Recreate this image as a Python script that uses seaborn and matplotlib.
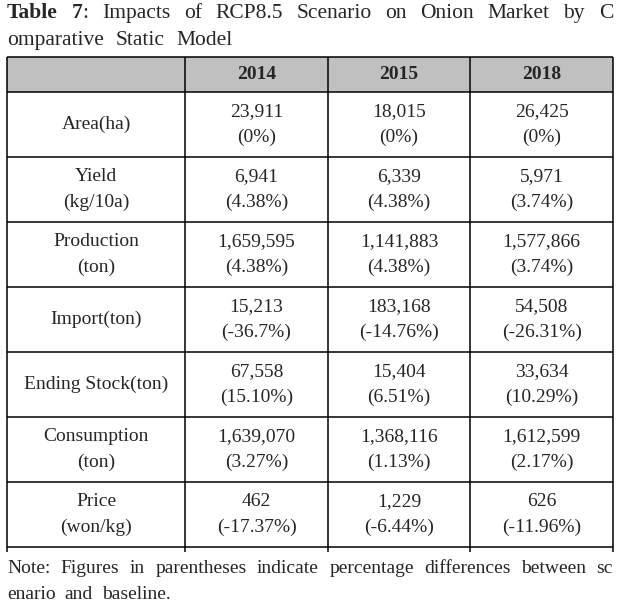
import numpy as np
import matplotlib
matplotlib.use("Agg")
import matplotlib.pyplot as plt
from matplotlib.colors import ListedColormap
import seaborn as sns

# ======================================
# Data
# ======================================

years = ["2014", "2015", "2018"]

row_labels = [
    "Area(ha)",
    "Yield\n(kg/10a)",
    "Production\n(ton)",
    "Import(ton)",
    "Ending Stock(ton)",
    "Consumption\n(ton)",
    "Price\n(won/kg)",
]

values_2014 = [23911, 6941, 1659595, 15213, 67558, 1639070, 462]
pct_2014 = ["0%", "4.38%", "4.38%", "-36.7%", "15.10%", "3.27%", "-17.37%"]

values_2015 = [18015, 6339, 1141883, 183168, 15404, 1368116, 1229]
pct_2015 = ["0%", "4.38%", "4.38%", "-14.76%", "6.51%", "1.13%", "-6.44%"]

values_2018 = [26425, 5971, 1577866, 54508, 33634, 1612599, 626]
pct_2018 = ["0%", "3.74%", "3.74%", "-26.31%", "10.29%", "2.17%", "-11.96%"]

title_line1 = "Impacts of RCP8.5 Scenario on Onion Market by C"
title_line2 = "omparative Static Model"
note_line1 = "Note: Figures in parentheses indicate percentage differences between sc"
note_line2 = "enario and baseline."

# ======================================
# Style
# ======================================

sns.set_style("white")
plt.rcParams["font.family"] = ["Liberation Serif", "DejaVu Serif"]

W, H = 619, 605
fig = plt.figure(figsize=(W / 100, H / 100), dpi=100)

# table area in pixels
tx0, tx1 = 7, 613
ty0, ty1 = 57, 547
ax = fig.add_axes([tx0 / W, (H - ty1) / H, (tx1 - tx0) / W, (ty1 - ty0) / H])

# ======================================
# Grid (unequal column / row sizes)
# ======================================

col_units = [5, 4, 4, 4]
row_units = [7] + [13] * len(row_labels)

row_kind = np.repeat([1] + [0] * len(row_labels), row_units)
grid = np.tile(row_kind[:, None], (1, sum(col_units)))

sns.heatmap(grid, ax=ax, cmap=ListedColormap(["white", "#c0c0c0"]),
            vmin=0, vmax=1, cbar=False,
            xticklabels=False, yticklabels=False)

xe = np.cumsum([0] + col_units)
ye = np.cumsum([0] + row_units)

ax.hlines(ye, 0, xe[-1], color="black", lw=1.1, clip_on=False)
ax.vlines(xe, 0, ye[-1] + 0.9, color="black", lw=1.1, clip_on=False)

# ======================================
# Cell text
# ======================================

fs = 14
ls = 1.62
xc = (xe[:-1] + xe[1:]) / 2
yc = (ye[:-1] + ye[1:]) / 2

for j, yr in enumerate(years):
    ax.text(xc[j + 1], yc[0], yr, ha="center", va="center",
            fontsize=fs, fontweight="bold")

columns = [(values_2014, pct_2014), (values_2015, pct_2015), (values_2018, pct_2018)]

for i, lab in enumerate(row_labels):
    ax.text(xc[0], yc[i + 1], lab, ha="center", va="center",
            fontsize=fs, linespacing=ls, multialignment="center")
    for j, (vals, pcts) in enumerate(columns):
        ax.text(xc[j + 1], yc[i + 1], f"{vals[i]:,}\n({pcts[i]})",
                ha="center", va="center", fontsize=fs, linespacing=ls,
                multialignment="center")

# ======================================
# Title and note (justified lines)
# ======================================

renderer = fig.canvas.get_renderer()


def word_width(segs, size):
    w = 0
    for s, wt in segs:
        t = fig.text(0, 0, s, fontsize=size, fontweight=wt)
        w += t.get_window_extent(renderer=renderer).width
        t.remove()
    return w


def put_line(words, y, size, x0, x1=None, gap=None):
    widths = [word_width(w, size) for w in words]
    if x1 is not None:
        gap = (x1 - x0 - sum(widths)) / (len(words) - 1)
    x = x0
    for segs, wd in zip(words, widths):
        xs = x
        for s, wt in segs:
            t = fig.text(xs / W, (H - y) / H, s, fontsize=size,
                         fontweight=wt, va="baseline", ha="left")
            xs += t.get_window_extent(renderer=renderer).width
        x += wd + gap


def plain(text):
    return [[(w, "normal")] for w in text.split()]


title_words = [[("Table", "bold")], [("7", "bold"), (":", "normal")]] + plain(title_line1)
put_line(title_words, 18, 15.5, 7, 613)
put_line(plain(title_line2), 45, 15.5, 7, gap=12)

put_line(plain(note_line1), 573, 14, 7, 613)
put_line(plain(note_line2), 599, 14, 7, gap=9)

fig.savefig("out.png", dpi=100)
